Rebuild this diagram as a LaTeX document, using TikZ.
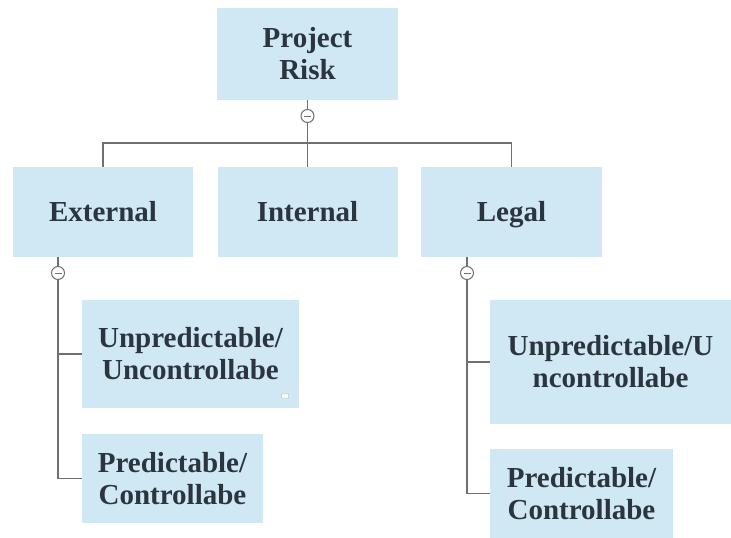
\documentclass[tikz,border=0pt]{standalone}
\usepackage{fontspec}
\setmainfont{Liberation Serif}
\definecolor{boxfill}{HTML}{D0E7F4}
\definecolor{txt}{HTML}{2A3540}
\definecolor{linec}{HTML}{707070}
\begin{document}
\begin{tikzpicture}[x=1pt,y=-1pt,
  box/.style={fill=boxfill,draw=none,inner sep=0pt,align=center,text=txt,
    font=\bfseries\fontsize{29}{32}\selectfont},
  conn/.style={draw=linec,line width=1.1pt},
  toggle/.style={circle,draw=linec,fill=white,line width=1pt,inner sep=0pt,minimum size=13pt,
    path picture={\draw[linec,line width=1pt]([xshift=-3.5pt]path picture bounding box.center)--([xshift=3.5pt]path picture bounding box.center);}}]
\useasboundingbox (0,0) rectangle (731,538);
\node[box,minimum width=181pt,minimum height=92pt] (pr) at (307.5,54) {Project\\Risk};
\node[box,minimum width=180pt,minimum height=90pt] (ext) at (103,212) {External};
\node[box,minimum width=180pt,minimum height=90pt] (int) at (307.5,212) {Internal};
\node[box,minimum width=181pt,minimum height=90pt] (leg) at (511.5,212) {Le\smash{g}al};
\node[box,minimum width=217pt,minimum height=108pt] (u1) at (190.5,354) {Unpredictable/\\Uncontrollabe};
\node[box,minimum width=181pt,minimum height=89pt] (p1) at (172.5,478.5) {Predictable/\\Controllabe};
\node[box,minimum width=241pt,minimum height=124pt] (u2) at (610.5,362) {Unpredictable/U\\ncontrollabe};
\node[box,minimum width=183pt,minimum height=89pt] (p2) at (581.5,493.5) {Predictable/\\Controllabe};
\node[draw=gray!70,fill=white,rounded corners=0.5pt,minimum width=7pt,minimum height=4pt,inner sep=0pt] (note) at (285,396) {};
\coordinate (j0) at (307.5,143);
\node[toggle] (c0) at (307.5,116) {};
\node[toggle] (c1) at (58,273) {};
\node[toggle] (c2) at (467,273) {};
\draw[conn] (pr.south) -- (c0);
\draw[conn] (c0) -- (int.north);
\draw[conn] (ext.north) |- (j0) -| (leg.north);
\draw[conn] (c1 |- ext.south) -- (c1);
\draw[conn] (c1) |- (u1.west);
\draw[conn] (c1) |- (p1.west);
\draw[conn] (c2 |- leg.south) -- (c2);
\draw[conn] (c2) |- (u2.west);
\draw[conn] (c2) |- (p2.west);
\end{tikzpicture}
\end{document}
